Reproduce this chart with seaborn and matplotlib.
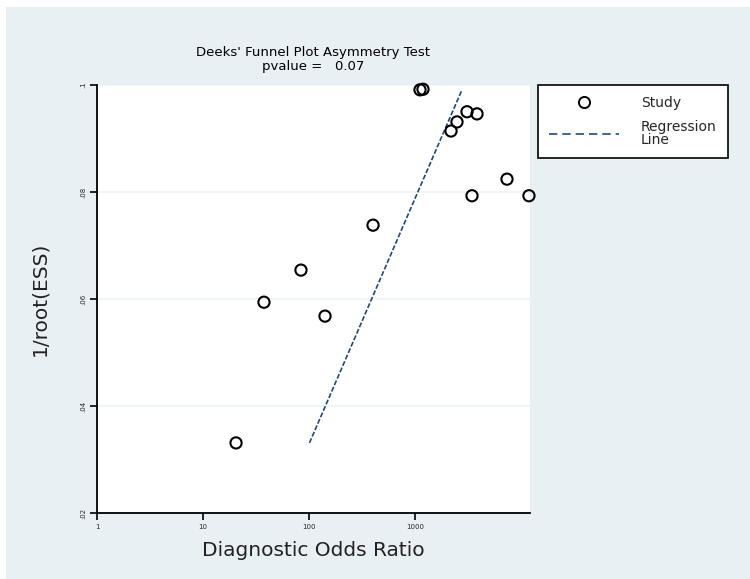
import numpy as np
import pandas as pd
import seaborn as sns
import matplotlib.pyplot as plt
from matplotlib.patches import Rectangle
from matplotlib.lines import Line2D

# study points
dor = [1115, 1190, 2188, 2490, 3096, 3848, 3450, 7380, 11890, 402, 84, 37.6, 141.6, 20.5]
inv_ess = [0.0991, 0.0992, 0.0914, 0.0931, 0.0950, 0.0946, 0.0793, 0.0824, 0.0793,
           0.0738, 0.0654, 0.0594, 0.0568, 0.0331]

# regression line ends
line_dor = [101, 2775]
line_y = [0.0331, 0.0991]

x_ticks = [1, 10, 100, 1000]
x_labels = ["1", "10", "100", "1000"]
y_ticks = [0.02, 0.04, 0.06, 0.08, 0.10]
y_labels = [".02", ".04", ".06", ".08", ".1"]

df = pd.DataFrame({"dor": dor, "inv_ess": inv_ess})
df_line = pd.DataFrame({"dor": line_dor, "inv_ess": line_y})

sns.set_style("white")
bg = "#e8f0f3"
fig = plt.figure(figsize=(7.5, 5.79), dpi=100)
fig.patch.set_facecolor("white")
fig.patches.append(Rectangle((6/750, 0), 1 - 6/750, 1 - 7/579, transform=fig.transFigure,
                             facecolor=bg, edgecolor="none", zorder=-10))

ax = fig.add_axes([97/750, 66/579, 433/750, 428/579])
ax.set_facecolor("white")

ax.set_xscale("log")
for yt in y_ticks[1:]:
    ax.axhline(yt, color="#eef3f5", lw=1.2, zorder=0)

sns.lineplot(data=df_line, x="dor", y="inv_ess", ax=ax, color="#1f4a78", lw=1.2,
             dashes=False, linestyle=(0, (3, 1.2)), zorder=2)
sns.scatterplot(data=df, x="dor", y="inv_ess", ax=ax, marker="o", s=65,
                facecolor="none", edgecolor="black", linewidth=1.5, zorder=3,
                clip_on=False)

ax.set_xlim(1, 10 ** 4.085)
ax.set_ylim(0.02, 0.10)
ax.set_xticks(x_ticks)
ax.set_xticklabels(x_labels, fontsize=5)
ax.set_yticks(y_ticks)
ax.set_yticklabels(y_labels, fontsize=5, rotation=90, va="center")
ax.minorticks_off()
ax.tick_params(axis="both", bottom=True, left=True, length=5, width=1.2,
               color="black", direction="out", pad=3)

for s in ["top", "right"]:
    ax.spines[s].set_visible(False)
for s in ["left", "bottom"]:
    ax.spines[s].set_color("black")
    ax.spines[s].set_linewidth(1.3)

ax.set_xlabel("Diagnostic Odds Ratio", fontsize=14.5, color="#222222", labelpad=8)
ax.set_ylabel("1/root(ESS)", fontsize=14.5, color="#222222", labelpad=22)
ax.set_title("Deeks' Funnel Plot Asymmetry Test\npvalue =   0.07", fontsize=9.5,
             linespacing=1.1, pad=11, color="black")

handles = [Line2D([0], [0], marker="o", color="none", markerfacecolor="none",
                  markeredgecolor="black", markersize=8, markeredgewidth=1.4),
           Line2D([0], [0], color="#1f4a78", lw=1.2, linestyle=(0, (5, 3)))]
leg = ax.legend(handles, ["Study", "Regression\nLine"], loc="upper left",
                bbox_to_anchor=(538/750, 1 - 85/579), bbox_transform=fig.transFigure,
                frameon=True, fancybox=False, edgecolor="black", fontsize=10,
                handlelength=5.0, borderpad=0.8, labelspacing=0.7, handletextpad=1.6,
                borderaxespad=0, framealpha=1)
leg.get_frame().set_linewidth(1.2)
for t in leg.get_texts():
    t.set_linespacing(0.9)

fig.savefig("out.png", dpi=100, facecolor=fig.get_facecolor())
